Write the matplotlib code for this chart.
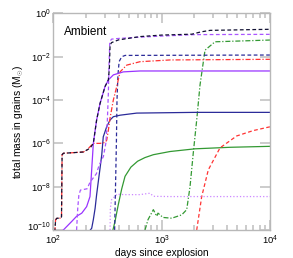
import matplotlib
matplotlib.use('Agg')
import matplotlib.pyplot as plt
import matplotlib.transforms as mtransforms
from matplotlib.ticker import LogLocator, NullLocator, NullFormatter

plt.rcParams['font.family'] = ['Liberation Sans', 'DejaVu Sans']
plt.rcParams['mathtext.fontset'] = 'custom'
plt.rcParams['mathtext.rm'] = 'Liberation Sans'
plt.rcParams['mathtext.it'] = 'Liberation Sans:italic'
plt.rcParams['mathtext.bf'] = 'Liberation Sans:bold'

# ---- data (days, solar masses) ----
black_dash_t = [103, 105, 108, 115, 119, 120.5, 124, 150, 189, 205, 218, 234, 251, 270, 300, 322,
                329, 334, 345, 400, 630, 1000, 1900, 2300, 2800, 10000]
black_dash_m = [8e-11, 3e-10, 3.5e-10, 3.5e-10, 4e-10, 3e-7, 3.5e-7, 3.7e-7, 4e-7, 5e-7, 6e-7, 1e-6,
                1.2e-5, 7e-5, 4.2e-4, 8.5e-4, 3e-3, 3.5e-2, 4.5e-2, 6e-2, 8.5e-2, 1e-1, 1.1e-1,
                1.4e-1, 1.65e-1, 1.85e-1]

red_dashdot_t = [103, 105, 108, 115, 119, 120.5, 124, 150, 189, 205, 218, 234, 270, 300, 311, 322,
                 334, 358, 385, 413, 476, 631, 1194, 10000]
red_dashdot_m = [8e-11, 3e-10, 3.5e-10, 3.5e-10, 4e-10, 3e-7, 3.5e-7, 3.7e-7, 4e-7, 5e-7, 7e-7, 1e-6,
                 1e-6, 1.1e-6, 1.4e-6, 4e-6, 1.5e-5, 1e-4, 4.2e-4, 2e-3, 4.1e-3, 5.9e-3, 7.1e-3, 7.6e-3]

purple_solid_t = [123.7, 148, 164, 183, 203, 218, 226, 234, 251, 270, 300, 322, 358, 443, 631, 10000]
purple_solid_m = [1e-10, 2.5e-10, 4.3e-10, 6e-10, 1.2e-9, 3.5e-9, 6e-8, 1e-6, 1.2e-5, 7e-5,
                  4.2e-4, 8.5e-4, 1.45e-3, 2e-3, 2.2e-3, 2.2e-3]

purple_dash_t = [164, 168, 172, 178, 205, 218, 250, 265, 290, 305, 315, 322, 327, 332, 345, 400,
                 630, 1000, 2000, 10000]
purple_dash_m = [1e-10, 1e-9, 4e-9, 7e-9, 8e-9, 1.6e-8, 4e-8, 1e-7, 2.5e-7, 1e-6, 1e-5, 2e-4,
                 5e-3, 5e-2, 6.5e-2, 7e-2, 8e-2, 9e-2, 1.05e-1, 1.08e-1]

purple_dot_t = [334, 336, 345, 387, 450, 630, 780, 840, 1200, 10000]
purple_dot_m = [1e-10, 1e-9, 2.5e-9, 4.5e-9, 4.3e-9, 4.3e-9, 5e-9, 3.6e-9, 3.5e-9, 3.5e-9]

navy_solid_t = [210, 226, 234, 243, 251, 260, 270, 280, 289, 311, 334, 358, 413, 589, 2032, 10000]
navy_solid_m = [7.6e-11, 1.2e-10, 3e-10, 1e-9, 4.3e-9, 1.7e-8, 7.2e-8, 3e-7, 2e-6, 5.9e-6,
                1.2e-5, 1.7e-5, 2e-5, 2.5e-5, 2.7e-5, 2.7e-5]

navy_dash_t = [368, 375, 382, 387, 395, 405, 428, 460, 10000]
navy_dash_m = [1e-10, 1e-8, 1e-6, 1e-4, 1.5e-3, 6e-3, 1e-2, 1.15e-2, 1.2e-2]

green_solid_t = [355, 371, 398, 428, 459, 520, 600, 700, 838, 1194, 2030, 4300, 10000]
green_solid_m = [1e-10, 2.5e-10, 1.5e-9, 8e-9, 3e-8, 8e-8, 1.5e-7, 2.2e-7, 3e-7, 4.2e-7,
                 5.6e-7, 6.6e-7, 7.3e-7]

green_dashdot_t = [702, 748, 838, 900, 925, 1029, 1238, 1531, 1703, 1827, 1960, 2106, 2259,
                   2512, 3108, 10000]
green_dashdot_m = [1e-10, 3e-10, 8.7e-10, 4.3e-10, 6e-10, 3.8e-10, 3.5e-10, 5e-10, 8.7e-10,
                   1e-8, 3.8e-7, 1.2e-5, 4.9e-4, 2e-2, 4.9e-2, 5.9e-2]

red_dash_t = [2106, 2342, 2695, 3456, 4928, 7014, 9646, 10000]
red_dash_m = [1e-10, 3.5e-9, 6e-8, 6.2e-7, 2.2e-6, 3.9e-6, 5.6e-6, 5.8e-6]

x_ticks = [1e2, 1e3, 1e4]
y_ticks = [1e0, 1e-2, 1e-4, 1e-6, 1e-8, 1e-10]

# ---- figure ----
fig = plt.figure(figsize=(2.93, 2.58), dpi=100)
ax = fig.add_axes([0.182, 0.1085, 0.7395, 0.8395])

purple = '#9933ff'
navy = '#2b2b99'
green = '#339933'
red = '#ff3333'
lw = 0.9

ax.plot(green_solid_t, green_solid_m, '-', color=green, lw=lw)
ax.plot(green_dashdot_t, green_dashdot_m, '-.', color=green, lw=lw, dashes=(4, 1.5, 1, 1.5))
ax.plot(red_dash_t, red_dash_m, '--', color=red, lw=lw, dashes=(3, 2))
ax.plot(purple_dot_t, purple_dot_m, ':', color='#cc88ff', lw=lw)
ax.plot(navy_solid_t, navy_solid_m, '-', color=navy, lw=lw)
ax.plot(navy_dash_t, navy_dash_m, '--', color=navy, lw=lw, dashes=(3, 2))
ax.plot(red_dashdot_t, red_dashdot_m, '-.', color=red, lw=lw, dashes=(4, 1.5, 1, 1.5))
ax.plot(purple_solid_t, purple_solid_m, '-', color=purple, lw=lw)
ax.plot(purple_dash_t, purple_dash_m, '--', color='#aa55ff', lw=lw, dashes=(3, 2))
ax.plot(black_dash_t, black_dash_m, '--', color='#111133', lw=lw, dashes=(3, 2))

ax.set_xscale('log')
ax.set_yscale('log')
ax.set_xlim(1e2, 1e4)
ax.set_ylim(1e-10, 1e0)

ax.set_xticks(x_ticks)
ax.xaxis.set_minor_locator(LogLocator(base=10, subs=range(2, 10)))
ax.xaxis.set_minor_formatter(NullFormatter())
ax.set_yticks(y_ticks)
ax.yaxis.set_minor_locator(NullLocator())

ax.tick_params(which='both', direction='in', top=True, right=True, color='#c4c4c4', width=1.2,
               labelsize=6.8)
ax.tick_params(axis='x', pad=3)
ax.tick_params(axis='y', pad=2)
ax.tick_params(which='major', length=7)
ax.tick_params(which='minor', length=3.5)
for sp in ax.spines.values():
    sp.set_color('#b8b8b8')
    sp.set_linewidth(1)

# nudge the bottom y label up a little, as in the reference corner
fig.canvas.draw()
bottom_lab = ax.get_yticklabels()[-1]
bottom_lab.set_transform(bottom_lab.get_transform()
                         + mtransforms.ScaledTranslation(0, 3 / 72, fig.dpi_scale_trans))

ax.set_xlabel('days since explosion', fontsize=7.3)
ax.set_ylabel(r'total mass in grains (M$_{\odot}$)', fontsize=7.4)
ax.xaxis.set_label_coords(0.5, -0.082)
ax.yaxis.set_label_coords(-0.126, 0.5)
ax.text(0.05, 0.913, 'Ambient', transform=ax.transAxes, fontsize=8.5, ha='left', va='center')

plt.savefig('out.png', dpi=100)
plt.close(fig)
